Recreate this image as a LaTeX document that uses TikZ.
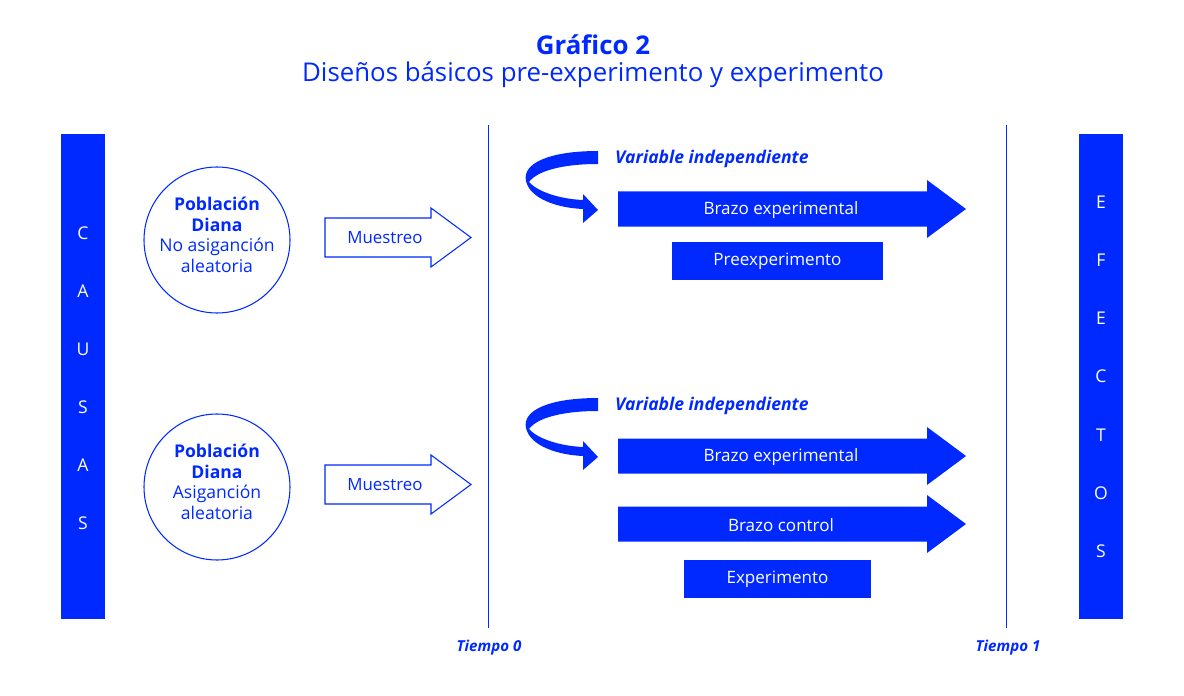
\documentclass[tikz,border=0pt]{standalone}
\usepackage{fontspec}
\setmainfont{Open Sans}
\usetikzlibrary{calc}
\definecolor{azul}{RGB}{0,41,255}
\begin{document}
\begin{tikzpicture}[x=0.02cm,y=-0.02cm,
  bar/.style={fill=azul},
  barletter/.style={text=white,font=\fontsize{10}{12}\selectfont},
  timeline/.style={draw=azul,line width=0.45pt},
  timelabel/.style={text=azul,font=\fontsize{8.6}{10}\selectfont\bfseries\itshape},
  pop/.style={draw=azul,line width=0.6pt,circle,minimum size=146*0.02cm,inner sep=0pt},
  poptext/.style={text=azul,align=center,font=\fontsize{10}{11.4}\selectfont},
  outarrow/.style={draw=azul,line width=0.6pt,fill=white},
  inlabel/.style={text=azul,font=\fontsize{9.6}{11}\selectfont},
  bluefill/.style={fill=azul},
  whitelabel/.style={text=white,font=\fontsize{9.7}{11}\selectfont},
  varlabel/.style={text=azul,font=\fontsize{10}{12}\selectfont\bfseries\itshape,anchor=west},
]
\useasboundingbox (0,0) rectangle (1184,696);

% title
\node[text=azul,font=\fontsize{14.7}{17}\selectfont\bfseries] (t1) at (593,45) {Gráfico 2};
\node[text=azul,font=\fontsize{14.7}{17}\selectfont] (t2) at (593,75) {Diseños básicos pre-experimento y experimento};

% side bars
\fill[bar] (61,134) rectangle (105,619);
\fill[bar] (1079,134) rectangle (1123,619);
\foreach \l [count=\i] in {C,A,U,S,A,S}
  \node[barletter] (causa\i) at (83,{233+58*(\i-1)}) {\l};
\foreach \l [count=\i] in {E,F,E,C,T,O,S}
  \node[barletter] (efecto\i) at (1101,{202+58.2*(\i-1)}) {\l};

% time lines
\coordinate (t0top) at (488,125); \coordinate (t0bot) at (488,628);
\coordinate (t1top) at (1006,125); \coordinate (t1bot) at (1006,628);
\draw[timeline] (t0top) -- (t0bot);
\draw[timeline] (t1top) -- (t1bot);
\node[timelabel] (tiempo0) at (489,648) {Tiempo 0};
\node[timelabel] (tiempo1) at (1008,648) {Tiempo 1};

% populations
\node[pop] (pop1) at (217,240) {};
\node[poptext] (pop1t) at (217,235) {\textbf{Población}\\[0.3pt]\textbf{Diana}\\[0.3pt]No asiganción\\[0.3pt]aleatoria};
\node[pop] (pop2) at (217,487) {};
\node[poptext] (pop2t) at (217,482) {\textbf{Población}\\[0.3pt]\textbf{Diana}\\[0.3pt]Asiganción\\[0.3pt]aleatoria};

% muestreo arrows
\foreach \yc/\n in {237.5/1,484.5/2}{
  \draw[outarrow] (325,{\yc-19.5}) -- (431,{\yc-19.5}) -- (431,{\yc-29.5}) -- (471,\yc)
     -- (431,{\yc+29.5}) -- (431,{\yc+19.5}) -- (325,{\yc+19.5}) -- cycle;
  \node[inlabel] (muestreo\n) at (385,\yc) {Muestreo};
}

% blue arrows
\foreach \yc/\n/\t in {209/a/Brazo experimental,456/b/Brazo experimental,524/c/Brazo control}{
  \fill[bluefill] (618,{\yc-17.5}) -- (927,{\yc-17.5}) -- (927,{\yc-29}) -- (966,\yc)
     -- (927,{\yc+29}) -- (927,{\yc+17.5}) -- (618,{\yc+17.5}) -- cycle;
  \node[whitelabel] (brazo\n) at (781,{\yc+1.5}) {\t};
}

% boxes
\fill[bluefill] (672,242) rectangle (883,280);
\node[whitelabel] (pre) at (777.5,261) {Preexperimento};
\fill[bluefill] (684,560) rectangle (871,598);
\node[whitelabel] (exp) at (777.5,579) {Experimento};

% curved arrows
\foreach \dy/\n in {0/1,247/2}{
  \begin{scope}[shift={(0,\dy)}]
  \fill[bluefill] (598,151) .. controls (550,151) and (522,163) .. (526,181)
     .. controls (530,199) and (558,208) .. (583,209) -- (583,223) -- (598,210) -- (583,194) -- (583,200)
     .. controls (560,199) and (538,192) .. (529,182)
     .. controls (537,171) and (562,164) .. (598,164) -- cycle;
  \end{scope}
  \node[varlabel] (var\n) at (609,{158.5+\dy}) {Variable independiente};
}
\end{tikzpicture}
\end{document}
